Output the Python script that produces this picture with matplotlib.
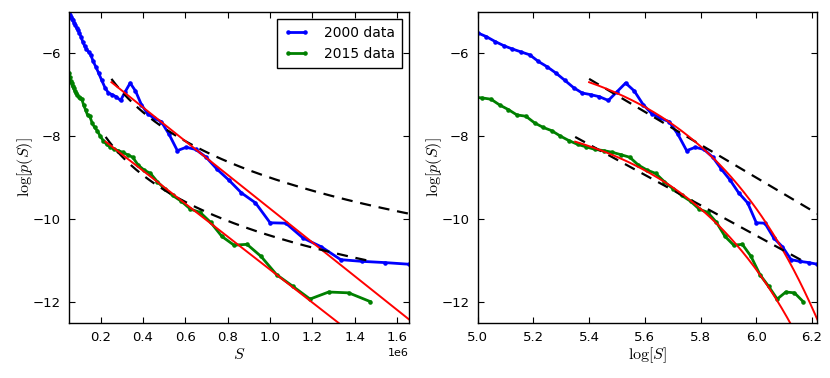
import numpy as np
import matplotlib
matplotlib.use("Agg")
import matplotlib.pyplot as plt

plt.rcParams['mathtext.fontset'] = 'cm'
plt.rcParams['font.family'] = ['DejaVu Sans']

# ---- data (log10 S, log10 p(S)) ----
logS_2000 = [4.718, 4.749, 4.781, 4.812, 4.843, 4.875, 4.906, 4.937, 4.969, 5.000,
             5.031, 5.063, 5.094, 5.125, 5.156, 5.187, 5.218, 5.250, 5.281, 5.312,
             5.344, 5.375, 5.406, 5.437, 5.469, 5.500, 5.531, 5.562, 5.594, 5.625,
             5.656, 5.687, 5.719, 5.750, 5.781, 5.812, 5.844, 5.875, 5.906, 5.937,
             5.969, 6.000, 6.031, 6.063, 6.094, 6.125, 6.156, 6.188, 6.219]
logp_2000 = [-5.02, -5.09, -5.13, -5.18, -5.21, -5.27, -5.31, -5.39, -5.44, -5.51,
             -5.60, -5.72, -5.82, -5.90, -5.97, -6.04, -6.20, -6.33, -6.48, -6.65,
             -6.83, -6.96, -7.00, -7.05, -7.14, -6.93, -6.72, -6.91, -7.24, -7.46,
             -7.57, -7.65, -7.96, -8.35, -8.27, -8.32, -8.51, -8.80, -9.06, -9.37,
             -9.61, -10.09, -10.10, -10.46, -10.67, -10.98, -11.02, -11.05, -11.09]

logS_2015 = [4.706, 4.737, 4.769, 4.800, 4.831, 4.862, 4.893, 4.924, 4.955, 4.986,
             5.017, 5.048, 5.079, 5.110, 5.141, 5.173, 5.204, 5.235, 5.266, 5.297,
             5.328, 5.359, 5.390, 5.421, 5.452, 5.483, 5.515, 5.546, 5.577, 5.608,
             5.639, 5.670, 5.701, 5.732, 5.764, 5.795, 5.826, 5.857, 5.888, 5.919,
             5.950, 5.981, 6.013, 6.044, 6.075, 6.106, 6.137, 6.168]
logp_2015 = [-6.47, -6.58, -6.66, -6.73, -6.80, -6.85, -6.91, -6.96, -7.00, -7.06,
             -7.08, -7.11, -7.25, -7.36, -7.49, -7.52, -7.68, -7.79, -7.87, -8.00,
             -8.11, -8.20, -8.26, -8.32, -8.35, -8.39, -8.45, -8.51, -8.70, -8.82,
             -8.90, -9.10, -9.27, -9.43, -9.57, -9.76, -9.84, -10.08, -10.42, -10.63,
             -10.61, -10.90, -11.34, -11.62, -11.93, -11.76, -11.78, -11.99]

series_labels = ["2000 data", "2015 data"]

# exponential fits: log p = a - b * S   (S in units of 1e6), over log10 S range
exp_a = [-5.677, -7.243]
exp_b = [4.073, 3.977]
# power-law fits: log p = c - alpha * log10 S
pow_c = [-6.62 + 3.97 * 5.40, -8.02 + 3.66 * 5.35]
pow_alpha = [3.97, 3.66]
fit_range = [(5.40, 6.219), (5.35, 6.168)]

colors = ['#0000ff', '#008000']

fig = plt.figure(figsize=(8.3, 3.78), dpi=100)
axL = fig.add_axes([0.0831, 0.1463, 0.4097, 0.8227])
axR = fig.add_axes([0.5755, 0.1463, 0.4092, 0.8227])

series = [(logS_2000, logp_2000), (logS_2015, logp_2015)]

for (lx, ly), col, lab in zip(series, colors, series_labels):
    lx = np.asarray(lx)
    S = 10 ** lx
    axL.plot(S, ly, '.-', color=col, lw=2, ms=4.5, label=lab)
    axR.plot(lx, ly, '.-', color=col, lw=2, ms=4.5, label=lab)

for a, b, c, al, (x0, x1) in zip(exp_a, exp_b, pow_c, pow_alpha, fit_range):
    xx = np.linspace(x0, x1, 300)
    SS = 10 ** xx
    y_exp = a - b * SS / 1e6
    y_pow = c - al * xx
    axL.plot(SS, y_pow, '--', color='k', lw=1.6, dashes=(5, 3.5))
    axL.plot(SS, y_exp, '-', color='#ff0000', lw=1.4)
    axR.plot(xx, y_pow, '--', color='k', lw=1.6, dashes=(5, 3.5))
    axR.plot(xx, y_exp, '-', color='#ff0000', lw=1.4)

allS = 10 ** np.concatenate([logS_2000, logS_2015])
axL.set_xlim(allS.min(), allS.max())
axR.set_xlim(5.0, max(logS_2000))
for ax in (axL, axR):
    ax.set_ylim(-12.5, -5)
    ax.set_yticks([-12, -10, -8, -6])
    ax.tick_params(direction='in', top=True, right=True, length=4, width=0.8,
                   labelsize=9.5, pad=6)
    for sp in ax.spines.values():
        sp.set_linewidth(1.0)
    ax.set_ylabel(r'$\log[p(S)]$', fontsize=11.5, labelpad=-2)

axL.set_xticks(np.arange(0.2e6, 1.61e6, 0.2e6))
axL.ticklabel_format(axis='x', style='sci', scilimits=(0, 0))
axL.xaxis.get_offset_text().set_fontsize(8)
axL.set_xlabel(r'$S$', fontsize=11.5, labelpad=2)
axR.set_xticks(np.arange(5.0, 6.21, 0.2))
axR.set_xticklabels([f"{v:.1f}" for v in np.arange(5.0, 6.21, 0.2)])
axR.set_xlabel(r'$\log[S]$', fontsize=11.5, labelpad=1)

leg = axL.legend(loc='upper right', fontsize=10, fancybox=False, framealpha=1,
                 edgecolor='k', numpoints=2, handlelength=1.8, handletextpad=1.1,
                 borderpad=0.5, borderaxespad=0.5, labelspacing=0.55)
leg.get_frame().set_linewidth(1.0)

fig.savefig('out.png', dpi=100)
